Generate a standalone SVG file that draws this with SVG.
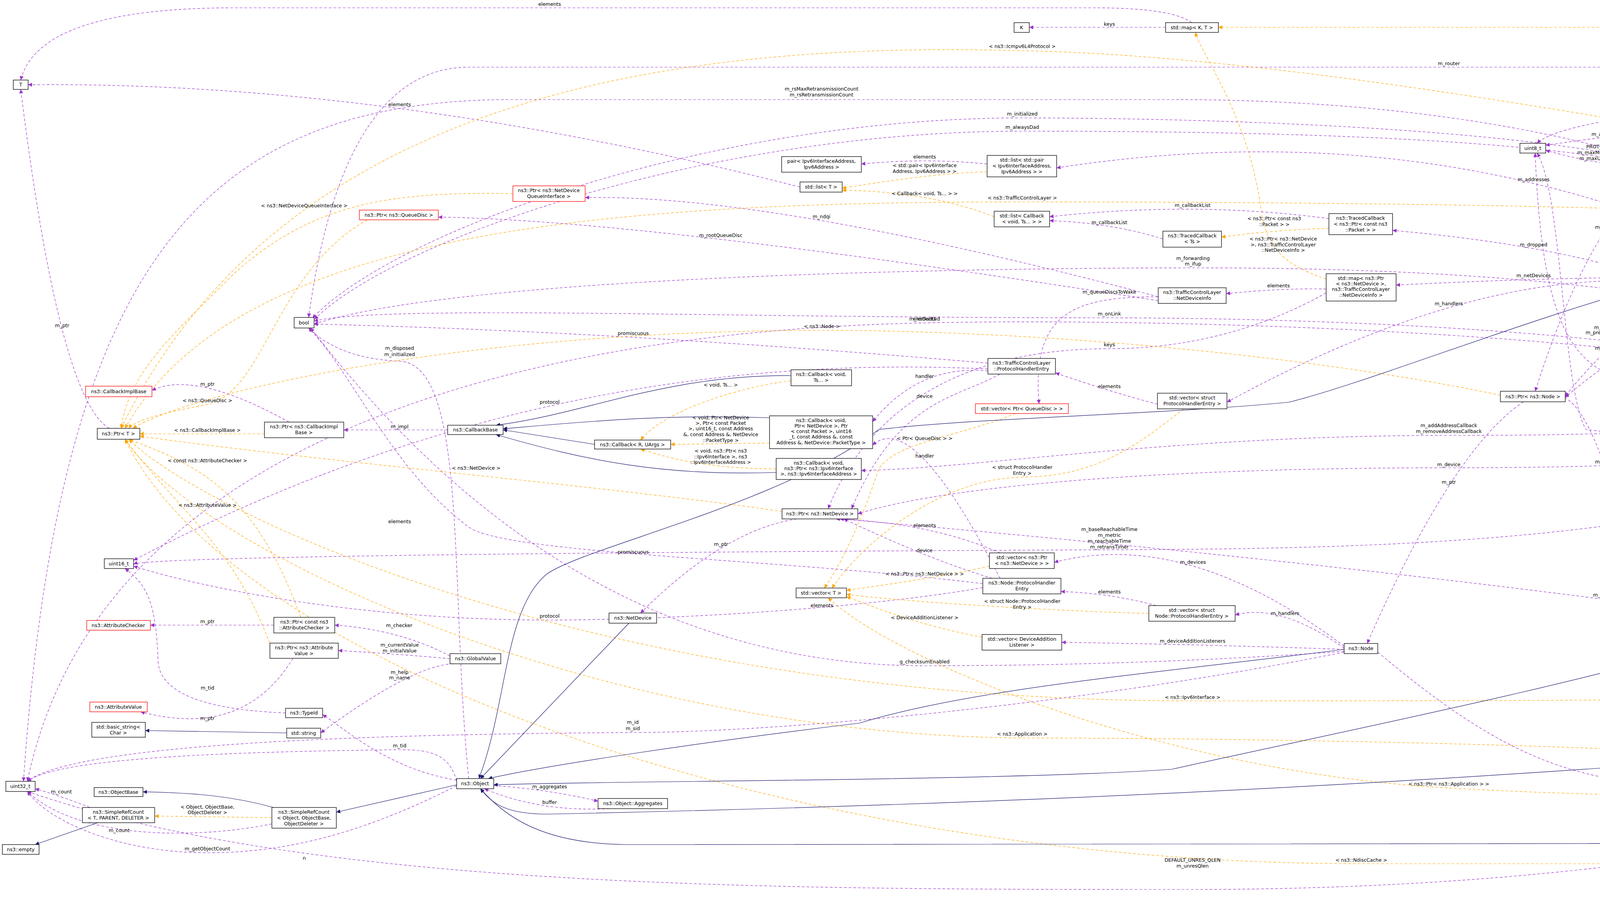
<svg xmlns="http://www.w3.org/2000/svg" width="6507" height="2328" viewBox="0 0 6507 2328">
<style>
text{font-family:"DejaVu Sans","Liberation Sans",sans-serif;font-size:12.5px;fill:#000;text-anchor:middle}
.nd rect{fill:#fff;stroke:#000;stroke-width:1.3}
.nd.red rect{stroke:#f00}
.nd.cur rect{fill:#bfbfbf;stroke:#000}
.e path{fill:none;stroke-width:1.2;stroke-dasharray:7,5}
.p path{stroke:#9a32cd;marker-end:url(#mp)}
.o path{stroke:#ffa500;marker-end:url(#mo)}
.b path{stroke:#191970;stroke-dasharray:none;marker-end:url(#mb)}
</style>
<defs>
<marker id="mp" viewBox="0 0 10 10" refX="10" refY="5" markerWidth="13" markerHeight="10" markerUnits="userSpaceOnUse" orient="auto"><path d="M0,0L10,5L0,10z" fill="#9a32cd"/></marker>
<marker id="mo" viewBox="0 0 10 10" refX="10" refY="5" markerWidth="13" markerHeight="10" markerUnits="userSpaceOnUse" orient="auto"><path d="M0,0L10,5L0,10z" fill="#ffa500"/></marker>
<marker id="mb" viewBox="0 0 10 10" refX="10" refY="5" markerWidth="13" markerHeight="10" markerUnits="userSpaceOnUse" orient="auto"><path d="M0,0L10,5L0,10z" fill="#191970"/></marker>
</defs>
<rect width="6507" height="2328" fill="#fff"/>
<g id="edges" class="e">
<g class="p">
<path d="M2984,70L2635,70"/>
<path d="M3051,58Q3000,20 2800,20L600,20Q100,20 53,205"/>
<path d="M2048,479Q986,208 72,217"/>
<path d="M2527,420Q2368,404 2205,420"/>
<path d="M2977,612Q2848,571 2687,565"/>
<path d="M3402,560Q3061,514 2687,555"/>
<path d="M5029,985Q3985,232 2705,430"/>
<path d="M4206,705Q3966,626 3565,590"/>
<path d="M4206,711Q3962,711 3574,730"/>
<path d="M3395,740Q3279,738 3139,752"/>
<path d="M2965,760Q1974,497 1498,506"/>
<path d="M2965,770Q1646,563 1122,556"/>
<path d="M2965,760C2750,760 2640,800 2660,1034"/>
<path d="M4206,720Q3744,701 3141,1030"/>
<path d="M2963,1035Q2847,1005 2702,955"/>
<path d="M2529,950Q2352,933 2234,1080"/>
<path d="M2560,958C2450,1020 2300,1020 2180,1303"/>
<path d="M2529,930Q1575,848 804,830"/>
<path d="M2529,945Q1378,890 342,1435"/>
<path d="M4290,724Q4067,934 4007,1015"/>
<path d="M4208,418Q4133,434 3957,385"/>
<path d="M4226,341Q4124,347 3957,372"/>
<path d="M4650,927Q4443,226 4300,353"/>
<path d="M4561,932Q4474,902 4328,889"/>
<path d="M4561,939L4331,939"/>
<path d="M4561,946Q4462,957 4352,985"/>
<path d="M4234,989C4050,960 3950,900 3930,392"/>
<path d="M4561,945C3800,830 2800,817 2367,827S300,900 70,2001"/>
<path d="M5029,985Q4907,952 4753,942"/>
<path d="M5090,978C5050,700 4950,540 4758,545"/>
<path d="M5740,1773C5500,1200 5000,450 4782,410"/>
<path d="M4533,400L4378,415"/>
<path d="M4600,572L4380,711"/>
<path d="M5060,978C4600,760 4300,760 4007,1018"/>
<path d="M4300,428Q4101,469 3930,1002"/>
<path d="M4290,1943Q4091,900 3960,1029"/>
<path d="M3900,1029Q3718,1151 3500,1648"/>
<path d="M5040,1000C4800,1150 4500,1198 3709,1198S2400,1250 2196,1316"/>
<path d="M5050,1000C4700,1400 3500,1405 2840,1408S400,1420 342,1445"/>
<path d="M5050,980C4500,700 3500,686 3054,686S1200,700 804,830"/>
<path d="M5060,1002C4700,1130 4200,1120 4060,1100C4000,1000 4000,500 3935,392"/>
<path d="M6100,267Q5930,750 5785,1773"/>
<path d="M5140,1002Q5638,1373 6080,1773"/>
<path d="M5810,1799C5950,1850 6200,1850 6250,1750C6300,1600 6350,700 6412,327"/>
<path d="M6000,1787L5844,1787"/>
<path d="M5714,1779L5540,1748"/>
<path d="M5450,1722L5110,1002"/>
<path d="M5714,1785Q4284,1513 2150,1329"/>
<path d="M6323,298L6189,262"/>
<path d="M6323,320Q6000,342 5449,342T4360,345"/>
<path d="M6090,242Q5990,140 5869,127"/>
<path d="M6070,242C5900,180 5700,172 5000,172L1200,172C900,172 820,600 790,813"/>
<path d="M6019,245C5800,225 5400,223 5100,226C4500,250 4000,300 3935,367"/>
<path d="M6019,258C5700,285 5300,285 5000,285C4600,285 4450,320 4360,335"/>
<path d="M5060,978C4800,500 4000,255 3000,255L1300,255C500,260 150,700 60,2001"/>
<path d="M4208,410C3800,320 3000,302 2617,302C1800,302 1000,600 800,815"/>
<path d="M4208,420C3800,340 3000,336 2617,336C1800,336 1000,620 805,818"/>
<path d="M4561,935C4000,830 3200,814 2840,814C1800,814 1000,780 804,822"/>
<path d="M3395,750C3200,860 3000,893 2840,893C2400,893 2200,1100 2120,1303"/>
<path d="M3441,1655Q3038,1352 2699,1440"/>
<path d="M3441,1660Q3278,1544 3162,1575"/>
<path d="M2960,1551Q2842,1519 2716,1515"/>
<path d="M2560,1416Q2384,1339 2140,1329"/>
<path d="M2540,1481Q2384,1435 2160,1329"/>
<path d="M2560,1481Q2337,1045 2234,1140"/>
<path d="M2516,1495C2000,1430 1300,1420 1200,1350C1000,1200 900,950 790,840"/>
<path d="M2516,1505C2200,1560 1700,1588 1407,1588C900,1588 500,1500 342,1450"/>
<path d="M3441,1663Q3060,1650 2718,1645"/>
<path d="M3441,1668C3000,1700 2600,1705 2367,1705C1500,1705 1000,1100 795,840"/>
<path d="M3441,1670C2800,1800 2000,1876 1620,1876C1000,1880 200,1900 70,2001"/>
<path d="M3527,1670C3800,1900 4000,2008 4294,2008L5013,2008"/>
<path d="M5013,2015Q4890,1975 4760,1963"/>
<path d="M4555,1956L4356,1956"/>
<path d="M1264,2012Q1407,2022 1531,2052"/>
<path d="M1560,2071Q1380,2080 1240,2020"/>
<path d="M1200,1994C1150,1500 1200,935 1023,925C900,920 830,880 790,840"/>
<path d="M1152,1680Q1022,1612 857,1601"/>
<path d="M1152,1687Q1022,1675 866,1666"/>
<path d="M1160,1700Q1056,1704 821,1877"/>
<path d="M701,1601L385,1601"/>
<path d="M750,1686C650,1850 500,1860 360,1823"/>
<path d="M731,1826C600,1820 420,1800 405,1700C400,1550 380,1500 320,1456"/>
<path d="M1169,1998C1000,1970 900,1880 826,1830"/>
<path d="M1169,2000C1150,1930 1100,1920 1023,1920C600,1925 150,1940 70,2001"/>
<path d="M230,2068Q160,2040 90,2020"/>
<path d="M696,2110C500,2150 200,2150 70,2027"/>
<path d="M1169,2012C900,2150 700,2184 531,2184C300,2184 120,2100 70,2027"/>
<path d="M280,1097Q152,1025 53,229"/>
<path d="M740,1081Q498,947 389,1000"/>
<path d="M1146,1101L880,1101"/>
<path d="M2040,1329Q1852,1358 1640,1570"/>
<path d="M5040,1000C4600,1115 4000,1115 3709,1115C3000,1115 2500,1200 2205,1205"/>
<path d="M5714,1795C5000,2150 4000,2278 3053,2278C2000,2278 800,2280 70,2027"/>
</g>
<g class="o">
<path d="M6412,288C6350,150 6250,70 6100,70L3119,70"/>
<path d="M4620,390C4000,280 3200,140 2617,130C1600,100 700,300 310,1097"/>
<path d="M2527,440Q2392,443 2156,482"/>
<path d="M2545,555Q2383,491 2156,487"/>
<path d="M4556,550C4000,520 3000,517 2617,517C1500,517 600,600 320,1097"/>
<path d="M3402,585Q3270,588 3127,607"/>
<path d="M3395,715C3300,680 3250,650 3230,550C3200,300 3080,150 3060,83"/>
<path d="M1313,496C1000,490 800,520 600,700C450,850 330,950 310,1097"/>
<path d="M940,563C700,700 680,1000 531,1036C400,1060 340,1080 330,1097"/>
<path d="M677,1111L358,1111"/>
<path d="M770,1581C650,1250 500,1190 330,1125"/>
<path d="M690,1647C600,1400 450,1300 320,1125"/>
<path d="M2025,975C1900,990 1700,1050 1640,1127"/>
<path d="M1970,1135C1850,1135 1800,1138 1717,1138"/>
<path d="M1987,1201C1800,1200 1700,1170 1640,1150"/>
<path d="M2002,1310C1600,1250 800,1180 358,1117"/>
<path d="M3841,1012C3300,900 2600,846 2104,846C1200,846 500,1000 340,1097"/>
<path d="M2600,1059C2450,1120 2300,1130 2250,1200C2200,1350 2150,1450 2110,1506"/>
<path d="M3030,1047C2900,1150 2800,1220 2617,1222C2400,1225 2200,1400 2130,1506"/>
<path d="M2533,1450C2400,1480 2250,1500 2167,1512"/>
<path d="M2941,1571C2700,1565 2300,1540 2167,1522"/>
<path d="M2514,1632C2350,1600 2250,1560 2167,1528"/>
<path d="M5380,1748C5000,1790 4500,1795 3053,1795C1500,1795 500,1300 330,1125"/>
<path d="M4580,1943C4000,1900 3000,1890 2617,1890C1500,1880 500,1400 320,1125"/>
<path d="M5013,2035C4500,2050 4000,2035 3709,2018C3000,1980 2300,1700 2120,1531"/>
<path d="M6020,1799C5900,1900 5920,2212 5700,2212L3485,2212C2000,2212 600,1700 320,1125"/>
<path d="M696,2094L396,2090"/>
</g>
<g class="b">
<path d="M250,2107L90,2163"/>
<path d="M700,2068C600,2040 500,2030 366,2028"/>
<path d="M1169,2010L861,2080"/>
<path d="M734,1877L372,1871"/>
<path d="M1610,1596L1230,1994"/>
<path d="M5090,1002C5070,1300 5000,1400 4400,1643C4000,1760 3500,1860 3000,1970C2600,2000 1500,2000 1264,2010"/>
<path d="M4250,724C3900,820 3500,980 3300,1030C3000,1060 2500,1070 2250,1100C2000,1290 1500,1400 1400,1470C1290,1560 1300,1800 1226,1994"/>
<path d="M3441,1663C3000,1720 2500,1760 2200,1852C1800,1900 1400,1960 1250,1994"/>
<path d="M4229,1958C3500,2010 2600,2060 1400,2085C1300,2085 1260,2060 1230,2020"/>
<path d="M5779,1799C5700,2000 5600,2159 5450,2159L1600,2163C1400,2160 1300,2100 1230,2020"/>
<path d="M1522,1138L1288,1101"/>
<path d="M1987,1210C1700,1220 1500,1180 1270,1113"/>
<path d="M2025,962C1700,960 1500,1060 1270,1089"/>
<path d="M1970,1070C1700,1060 1500,1080 1288,1098"/>
</g>
<g id="edge-labels">
<text x="2840" y="66">keys</text>
<text x="1407" y="15">elements</text>
<text x="1023" y="272">elements</text>
<text x="1023" y="1340">elements</text>
<text x="2104" y="1555">elements</text>
<text x="2367" y="821">elements</text>
<text x="2367" y="406">elements</text>
<text x="2840" y="574">m_callbackList</text>
<text x="3053" y="530">m_callbackList</text>
<text x="3926" y="464">m_addresses</text>
<text x="3926" y="631">m_dropped</text>
<text x="3926" y="710">m_netDevices</text>
<text x="3273" y="736">elements</text>
<text x="2103" y="559">m_ndqi</text>
<text x="1845" y="607">m_rootQueueDisc</text>
<text x="2840" y="752">m_queueDiscsToWake</text>
<text x="3709" y="782">m_handlers</text>
<text x="2840" y="994">elements</text>
<text x="2367" y="968">handler</text>
<text x="2367" y="1019">device</text>
<text x="1621" y="858">promiscuous</text>
<text x="1407" y="1034">protocol</text>
<text x="4108" y="896">m_node</text>
<text x="4108" y="380">PROT_NUMBER</text>
<text x="4108" y="395">m_maxMulticastSolicit</text>
<text x="4108" y="410">m_maxUnicastSolicit</text>
<text x="4108" y="348">m_address</text>
<text x="4459" y="427">m_address</text>
<text x="4459" y="900">m_state</text>
<text x="4459" y="935">m_scope</text>
<text x="4459" y="955">m_prefix</text>
<text x="4108" y="843">m_prefix</text>
<text x="4108" y="856">m_prefixLength</text>
<text x="2367" y="821">m_nsDadUid</text>
<text x="4899" y="952">m_linkLocalAddress</text>
<text x="4899" y="530">m_tc</text>
<text x="5263" y="675">m_icmpv6</text>
<text x="4459" y="403">m_ptr</text>
<text x="4459" y="613">m_ptr</text>
<text x="4459" y="770">m_node</text>
<text x="4108" y="586">m_node</text>
<text x="4108" y="1187">m_node</text>
<text x="3709" y="1239">m_ptr</text>
<text x="3709" y="1194">m_device</text>
<text x="2840" y="1360">m_baseReachableTime</text>
<text x="2840" y="1375">m_metric</text>
<text x="2840" y="1390">m_reachableTime</text>
<text x="2840" y="1405">m_retransTimer</text>
<text x="3054" y="666">m_forwarding</text>
<text x="3054" y="680">m_ifup</text>
<text x="4459" y="1101">m_curHopLimit</text>
<text x="5936" y="879">m_ndCache</text>
<text x="5624" y="1374">m_ndCache</text>
<text x="6104" y="1822">m_ndCache</text>
<text x="5936" y="1783">m_ptr</text>
<text x="5624" y="1750">m_interface</text>
<text x="5263" y="1227">m_ptr</text>
<text x="4108" y="1528">m_device</text>
<text x="6267" y="272">elements</text>
<text x="5449" y="338">keys</text>
<text x="5936" y="124">m_state</text>
<text x="3709" y="167">m_router</text>
<text x="5100" y="223">m_nsRetransmit</text>
<text x="5263" y="280">m_ipv6Address</text>
<text x="2103" y="232">m_rsMaxRetransmissionCount</text>
<text x="2103" y="247">m_rsRetransmissionCount</text>
<text x="2617" y="296">m_initialized</text>
<text x="2617" y="330">m_alwaysDad</text>
<text x="2840" y="808">m_onLink</text>
<text x="2840" y="887">keys</text>
<text x="3054" y="1444">m_devices</text>
<text x="3290" y="1575">m_handlers</text>
<text x="2840" y="1520">elements</text>
<text x="2367" y="1350">elements</text>
<text x="2367" y="1414">device</text>
<text x="2367" y="1172">handler</text>
<text x="1621" y="1418">promiscuous</text>
<text x="1407" y="1582">protocol</text>
<text x="3053" y="1646">m_deviceAdditionListeners</text>
<text x="2367" y="1699">g_checksumEnabled</text>
<text x="1620" y="1854">m_id</text>
<text x="1620" y="1870">m_sid</text>
<text x="4294" y="2004">m_applications</text>
<text x="4899" y="1963">elements</text>
<text x="4459" y="1951">m_ptr</text>
<text x="1407" y="2019">m_aggregates</text>
<text x="1407" y="2059">buffer</text>
<text x="1023" y="896">m_disposed</text>
<text x="1023" y="912">m_initialized</text>
<text x="1022" y="1606">m_checker</text>
<text x="1023" y="1656">m_currentValue</text>
<text x="1023" y="1671">m_initialValue</text>
<text x="1023" y="1726">m_help</text>
<text x="1023" y="1740">m_name</text>
<text x="531" y="1596">m_ptr</text>
<text x="531" y="1844">m_ptr</text>
<text x="531" y="1766">m_tid</text>
<text x="1023" y="1914">m_tid</text>
<text x="157" y="2032">m_count</text>
<text x="305" y="2131">m_count</text>
<text x="531" y="2178">m_getObjectCount</text>
<text x="779" y="2202">n</text>
<text x="159" y="838">m_ptr</text>
<text x="531" y="988">m_ptr</text>
<text x="1023" y="1097">m_impl</text>
<text x="1846" y="1398">m_ptr</text>
<text x="3709" y="1094">m_addAddressCallback</text>
<text x="3709" y="1109">m_removeAddressCallback</text>
<text x="3053" y="2207">DEFAULT_UNRES_QLEN</text>
<text x="3053" y="2222">m_unresQlen</text>
<text x="4898" y="51">&lt; Ipv6Address, NdiscCache</text>
<text x="4898" y="66">::Entry * &gt;</text>
<text x="2617" y="123">&lt; ns3::Icmpv6L4Protocol &gt;</text>
<text x="2367" y="428">&lt; std::pair&lt; Ipv6Interface</text>
<text x="2367" y="443">Address, Ipv6Address &gt; &gt;</text>
<text x="2367" y="500">&lt; Callback&lt; void, Ts... &gt; &gt;</text>
<text x="2617" y="511">&lt; ns3::TrafficControlLayer &gt;</text>
<text x="3262" y="564">&lt; ns3::Ptr&lt; const ns3</text>
<text x="3262" y="579">::Packet &gt; &gt;</text>
<text x="3285" y="616">&lt; ns3::Ptr&lt; ns3::NetDevice</text>
<text x="3285" y="631">&gt;, ns3::TrafficControlLayer</text>
<text x="3285" y="645">::NetDeviceInfo &gt;</text>
<text x="779" y="531">&lt; ns3::NetDeviceQueueInterface &gt;</text>
<text x="531" y="1030">&lt; ns3::QueueDisc &gt;</text>
<text x="531" y="1106">&lt; ns3::CallbackImplBase &gt;</text>
<text x="531" y="1184">&lt; const ns3::AttributeChecker &gt;</text>
<text x="531" y="1298">&lt; ns3::AttributeValue &gt;</text>
<text x="1845" y="990">&lt; void, Ts... &gt;</text>
<text x="1845" y="1074">&lt; void, Ptr&lt; NetDevice</text>
<text x="1845" y="1088">&gt;, Ptr&lt; const Packet</text>
<text x="1845" y="1102">&gt;, uint16_t, const Address</text>
<text x="1845" y="1117">&amp;, const Address &amp;, NetDevice</text>
<text x="1845" y="1132">::PacketType &gt;</text>
<text x="1845" y="1159">&lt; void, ns3::Ptr&lt; ns3</text>
<text x="1845" y="1174">::Ipv6Interface &gt;, ns3</text>
<text x="1845" y="1188">::Ipv6InterfaceAddress &gt;</text>
<text x="1219" y="1203">&lt; ns3::NetDevice &gt;</text>
<text x="2104" y="840">&lt; ns3::Node &gt;</text>
<text x="2367" y="1127">&lt; Ptr&lt; QueueDisc &gt; &gt;</text>
<text x="2617" y="1201">&lt; struct ProtocolHandler</text>
<text x="2617" y="1216">Entry &gt;</text>
<text x="2367" y="1474">&lt; ns3::Ptr&lt; ns3::NetDevice &gt; &gt;</text>
<text x="2617" y="1544">&lt; struct Node::ProtocolHandler</text>
<text x="2617" y="1559">Entry &gt;</text>
<text x="2367" y="1586">&lt; DeviceAdditionListener &gt;</text>
<text x="3053" y="1790">&lt; ns3::Ipv6Interface &gt;</text>
<text x="2617" y="1884">&lt; ns3::Application &gt;</text>
<text x="3709" y="2012">&lt; ns3::Ptr&lt; ns3::Application &gt; &gt;</text>
<text x="3485" y="2207">&lt; ns3::NdiscCache &gt;</text>
<text x="531" y="2071">&lt; Object, ObjectBase,</text>
<text x="531" y="2085">ObjectDeleter &gt;</text>
</g>
</g>
<g id="n_T" class="nd"><rect x="34" y="205" width="38" height="24"/><text x="53" y="221">T</text></g>
<g id="n_uint16" class="nd"><rect x="267" y="1431" width="75" height="25"/><text x="304" y="1448">uint16_t</text></g>
<g id="n_AttributeChecker" class="nd red"><rect x="222" y="1589" width="163" height="25"/><text x="303" y="1606">ns3::AttributeChecker</text></g>
<g id="n_PtrConstAttrChecker" class="nd"><rect x="701" y="1581" width="156" height="40"/><text x="779" y="1597">ns3::Ptr&lt; const ns3</text><text x="779" y="1612">::AttributeChecker &gt;</text></g>
<g id="n_PtrAttrValue" class="nd"><rect x="691" y="1647" width="175" height="39"/><text x="778" y="1663">ns3::Ptr&lt; ns3::Attribute</text><text x="778" y="1678">Value &gt;</text></g>
<g id="n_AttributeValue" class="nd red"><rect x="230" y="1798" width="147" height="25"/><text x="303" y="1815">ns3::AttributeValue</text></g>
<g id="n_TypeId" class="nd"><rect x="731" y="1814" width="95" height="24"/><text x="778" y="1830">ns3::TypeId</text></g>
<g id="n_basic_string" class="nd"><rect x="235" y="1850" width="137" height="38"/><text x="303" y="1866">std::basic_string&lt;</text><text x="303" y="1881">Char &gt;</text></g>
<g id="n_string" class="nd"><rect x="734" y="1865" width="87" height="25"/><text x="777" y="1882">std::string</text></g>
<g id="n_uint32" class="nd"><rect x="15" y="2001" width="75" height="26"/><text x="52" y="2018">uint32_t</text></g>
<g id="n_ObjectBase" class="nd"><rect x="241" y="2017" width="125" height="23"/><text x="303" y="2033">ns3::ObjectBase</text></g>
<g id="n_SRC_T" class="nd"><rect x="211" y="2068" width="185" height="39"/><text x="303" y="2084">ns3::SimpleRefCount</text><text x="303" y="2099">&lt; T, PARENT, DELETER &gt;</text></g>
<g id="n_SRC_Obj" class="nd"><rect x="696" y="2068" width="165" height="53"/><text x="778" y="2084">ns3::SimpleRefCount</text><text x="778" y="2099">&lt; Object, ObjectBase,</text><text x="778" y="2114">ObjectDeleter &gt;</text></g>
<g id="n_empty" class="nd"><rect x="6" y="2163" width="94" height="25"/><text x="53" y="2180">ns3::empty</text></g>
<g id="n_PtrQueueDisc" class="nd red"><rect x="920" y="538" width="202" height="25"/><text x="1021" y="555">ns3::Ptr&lt; ns3::QueueDisc &gt;</text></g>
<g id="n_bool" class="nd"><rect x="753" y="813" width="51" height="27"/><text x="778" y="831">bool</text></g>
<g id="n_CallbackImplBase" class="nd red"><rect x="219" y="989" width="170" height="27"/><text x="304" y="1007">ns3::CallbackImplBase</text></g>
<g id="n_PtrT" class="nd"><rect x="249" y="1097" width="109" height="28"/><text x="303" y="1115">ns3::Ptr&lt; T &gt;</text></g>
<g id="n_PtrCallbackImplBase" class="nd"><rect x="677" y="1081" width="203" height="40"/><text x="778" y="1097">ns3::Ptr&lt; ns3::CallbackImpl</text><text x="778" y="1112">Base &gt;</text></g>
<g id="n_CallbackBase" class="nd"><rect x="1146" y="1089" width="142" height="24"/><text x="1217" y="1105">ns3::CallbackBase</text></g>
<g id="n_CallbackRUArgs" class="nd"><rect x="1522" y="1127" width="195" height="23"/><text x="1619" y="1143">ns3::Callback&lt; R, UArgs &gt;</text></g>
<g id="n_CallbackIpv6" class="nd"><rect x="1987" y="1174" width="218" height="54"/><text x="2096" y="1190">ns3::Callback&lt; void,</text><text x="2096" y="1204">ns3::Ptr&lt; ns3::Ipv6Interface</text><text x="2096" y="1218">&gt;, ns3::Ipv6InterfaceAddress &gt;</text></g>
<g id="n_PtrNetDevice" class="nd"><rect x="2002" y="1303" width="194" height="26"/><text x="2099" y="1320">ns3::Ptr&lt; ns3::NetDevice &gt;</text></g>
<g id="n_vectorT" class="nd"><rect x="2038" y="1506" width="129" height="25"/><text x="2102" y="1523">std::vector&lt; T &gt;</text></g>
<g id="n_NetDevice" class="nd"><rect x="1559" y="1570" width="122" height="26"/><text x="1620" y="1587">ns3::NetDevice</text></g>
<g id="n_GlobalValue" class="nd"><rect x="1152" y="1674" width="130" height="26"/><text x="1217" y="1691">ns3::GlobalValue</text></g>
<g id="n_Object" class="nd"><rect x="1169" y="1994" width="95" height="26"/><text x="1216" y="2011">ns3::Object</text></g>
<g id="n_Aggregates" class="nd"><rect x="1531" y="2045" width="178" height="26"/><text x="1620" y="2062">ns3::Object::Aggregates</text></g>
<g id="n_pairIpv6" class="nd"><rect x="2001" y="401" width="204" height="40"/><text x="2103" y="417">pair&lt; Ipv6InterfaceAddress,</text><text x="2103" y="432">Ipv6Address &gt;</text></g>
<g id="n_listT" class="nd"><rect x="2048" y="466" width="108" height="26"/><text x="2102" y="483">std::list&lt; T &gt;</text></g>
<g id="n_PtrNDQI" class="nd red"><rect x="1313" y="476" width="185" height="40"/><text x="1405" y="492">ns3::Ptr&lt; ns3::NetDevice</text><text x="1405" y="507">QueueInterface &gt;</text></g>
<g id="n_CallbackVoidTs" class="nd"><rect x="2025" y="947" width="155" height="41"/><text x="2102" y="963">ns3::Callback&lt; void,</text><text x="2102" y="978">Ts... &gt;</text></g>
<g id="n_CallbackNetDev" class="nd"><rect x="1970" y="1065" width="264" height="84"/><text x="2102" y="1081">ns3::Callback&lt; void,</text><text x="2102" y="1095">Ptr&lt; NetDevice &gt;, Ptr</text><text x="2102" y="1109">&lt; const Packet &gt;, uint16</text><text x="2102" y="1123">_t, const Address &amp;, const</text><text x="2102" y="1138">Address &amp;, NetDevice::PacketType &gt;</text></g>
<g id="n_K" class="nd"><rect x="2596" y="58" width="39" height="25"/><text x="2615" y="75">K</text></g>
<g id="n_mapKT" class="nd"><rect x="2984" y="58" width="135" height="25"/><text x="3051" y="75">std::map&lt; K, T &gt;</text></g>
<g id="n_listPair" class="nd"><rect x="2527" y="398" width="178" height="55"/><text x="2616" y="414">std::list&lt; std::pair</text><text x="2616" y="429">&lt; Ipv6InterfaceAddress,</text><text x="2616" y="444">Ipv6Address &gt; &gt;</text></g>
<g id="n_listCallback" class="nd"><rect x="2545" y="541" width="142" height="40"/><text x="2616" y="557">std::list&lt; Callback</text><text x="2616" y="572">&lt; void, Ts... &gt; &gt;</text></g>
<g id="n_TracedCallbackTs" class="nd"><rect x="2977" y="592" width="150" height="41"/><text x="3052" y="608">ns3::TracedCallback</text><text x="3052" y="623">&lt; Ts &gt;</text></g>
<g id="n_NetDeviceInfo" class="nd"><rect x="2965" y="737" width="174" height="40"/><text x="3052" y="753">ns3::TrafficControlLayer</text><text x="3052" y="768">::NetDeviceInfo</text></g>
<g id="n_TCLPHE" class="nd"><rect x="2529" y="918" width="173" height="40"/><text x="2615" y="934">ns3::TrafficControlLayer</text><text x="2615" y="949">::ProtocolHandlerEntry</text></g>
<g id="n_vectorTCLPHE" class="nd"><rect x="2963" y="1007" width="178" height="40"/><text x="3052" y="1023">std::vector&lt; struct</text><text x="3052" y="1038">ProtocolHandlerEntry &gt;</text></g>
<g id="n_vectorPtrQueueDisc" class="nd red"><rect x="2497" y="1034" width="238" height="25"/><text x="2616" y="1051">std::vector&lt; Ptr&lt; QueueDisc &gt; &gt;</text></g>
<g id="n_vectorPtrNetDevice" class="nd"><rect x="2533" y="1416" width="166" height="40"/><text x="2616" y="1432">std::vector&lt; ns3::Ptr</text><text x="2616" y="1447">&lt; ns3::NetDevice &gt; &gt;</text></g>
<g id="n_NodePHE" class="nd"><rect x="2516" y="1481" width="200" height="40"/><text x="2616" y="1497">ns3::Node::ProtocolHandler</text><text x="2616" y="1512">Entry</text></g>
<g id="n_vectorNodePHE" class="nd"><rect x="2941" y="1551" width="221" height="40"/><text x="3051" y="1567">std::vector&lt; struct</text><text x="3051" y="1582">Node::ProtocolHandlerEntry &gt;</text></g>
<g id="n_vectorDAL" class="nd"><rect x="2514" y="1625" width="204" height="40"/><text x="2616" y="1641">std::vector&lt; DeviceAddition</text><text x="2616" y="1656">Listener &gt;</text></g>
<g id="n_TracedCallbackPacket" class="nd"><rect x="3402" y="547" width="163" height="54"/><text x="3483" y="563">ns3::TracedCallback</text><text x="3483" y="578">&lt; ns3::Ptr&lt; const ns3</text><text x="3483" y="593">::Packet &gt; &gt;</text></g>
<g id="n_mapNetDeviceInfo" class="nd"><rect x="3395" y="701" width="179" height="70"/><text x="3484" y="717">std::map&lt; ns3::Ptr</text><text x="3484" y="731">&lt; ns3::NetDevice &gt;,</text><text x="3484" y="745">ns3::TrafficControlLayer</text><text x="3484" y="760">::NetDeviceInfo &gt;</text></g>
<g id="n_Ipv6Address" class="nd"><rect x="4226" y="329" width="134" height="24"/><text x="4293" y="345">ns3::Ipv6Address</text></g>
<g id="n_uint8" class="nd"><rect x="3891" y="367" width="66" height="25"/><text x="3924" y="384">uint8_t</text></g>
<g id="n_Icmpv6L4Protocol" class="nd red"><rect x="4208" y="403" width="170" height="25"/><text x="4293" y="420">ns3::Icmpv6L4Protocol</text></g>
<g id="n_TrafficControlLayer" class="nd"><rect x="4206" y="699" width="174" height="25"/><text x="4293" y="716">ns3::TrafficControlLayer</text></g>
<g id="n_State_e" class="nd"><rect x="4258" y="877" width="70" height="24"/><text x="4293" y="893">State_e</text></g>
<g id="n_Scope_e" class="nd"><rect x="4255" y="926" width="76" height="26"/><text x="4293" y="943">Scope_e</text></g>
<g id="n_Ipv6Prefix" class="nd"><rect x="4234" y="977" width="118" height="25"/><text x="4293" y="994">ns3::Ipv6Prefix</text></g>
<g id="n_PtrNode" class="nd"><rect x="3841" y="1002" width="166" height="27"/><text x="3924" y="1020">ns3::Ptr&lt; ns3::Node &gt;</text></g>
<g id="n_Node" class="nd"><rect x="3441" y="1648" width="86" height="26"/><text x="3484" y="1665">ns3::Node</text></g>
<g id="n_Application" class="nd red"><rect x="4229" y="1943" width="127" height="26"/><text x="4292" y="1960">ns3::Application</text></g>
<g id="n_PtrIcmpv6" class="nd"><rect x="4533" y="390" width="249" height="26"/><text x="4657" y="407">ns3::Ptr&lt; ns3::Icmpv6L4Protocol &gt;</text></g>
<g id="n_PtrTCL" class="nd"><rect x="4556" y="532" width="202" height="40"/><text x="4657" y="548">ns3::Ptr&lt; ns3::TrafficControl</text><text x="4657" y="563">Layer &gt;</text></g>
<g id="n_Ipv6InterfaceAddress" class="nd"><rect x="4561" y="927" width="192" height="25"/><text x="4657" y="944">ns3::Ipv6InterfaceAddress</text></g>
<g id="n_Ipv6Interface" class="nd cur"><rect x="5029" y="978" width="139" height="24"/><text x="5098" y="994">ns3::Ipv6Interface</text></g>
<g id="n_PtrIpv6Interface" class="nd"><rect x="5339" y="1722" width="218" height="26"/><text x="5448" y="1739">ns3::Ptr&lt; ns3::Ipv6Interface &gt;</text></g>
<g id="n_PtrApplication" class="nd"><rect x="4555" y="1943" width="205" height="26"/><text x="4657" y="1960">ns3::Ptr&lt; ns3::Application &gt;</text></g>
<g id="n_vectorPtrApp" class="nd"><rect x="5013" y="2004" width="171" height="40"/><text x="5098" y="2020">std::vector&lt; ns3::Ptr</text><text x="5098" y="2035">&lt; ns3::Application &gt; &gt;</text></g>
<g id="n_NdiscCacheEntryState_e" class="nd"><rect x="5688" y="108" width="181" height="26"/><text x="5778" y="125">NdiscCacheEntryState_e</text></g>
<g id="n_NdiscCacheEntry" class="nd red"><rect x="6019" y="242" width="170" height="25"/><text x="6104" y="259">ns3::NdiscCache::Entry</text></g>
<g id="n_mapIpv6Entry" class="nd"><rect x="6323" y="288" width="178" height="39"/><text x="6412" y="304">std::map&lt; Ipv6Address,</text><text x="6412" y="319">NdiscCache::Entry * &gt;</text></g>
<g id="n_NdiscCache" class="nd"><rect x="5714" y="1773" width="130" height="26"/><text x="5779" y="1790">ns3::NdiscCache</text></g>
<g id="n_PtrNdiscCache" class="nd"><rect x="6000" y="1773" width="208" height="26"/><text x="6104" y="1790">ns3::Ptr&lt; ns3::NdiscCache &gt;</text></g>
</svg>
